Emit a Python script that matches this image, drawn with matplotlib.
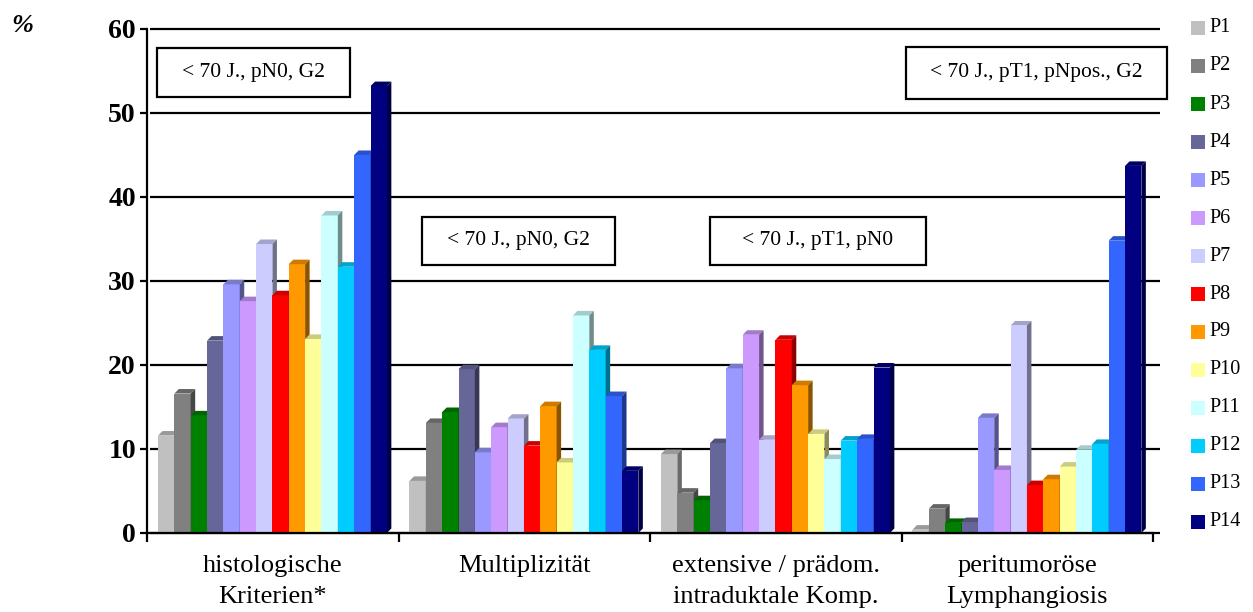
import numpy as np
import matplotlib
matplotlib.use('Agg')
import matplotlib.pyplot as plt
from matplotlib.patches import Polygon, Rectangle
from matplotlib.colors import to_rgb


categories = ['histologische\nKriterien*', 'Multiplizität',
              'extensive / prädom.\nintraduktale Komp.', 'peritumoröse\nLymphangiosis']
patients = ['P%d' % i for i in range(1, 15)]

# percentages per patient, P1..P14
hist_kriterien = [11.6, 16.6, 14.0, 22.9, 29.6, 27.6, 34.4, 28.3, 32.0, 23.1, 37.8, 31.7, 45.0, 53.2]
multiplizitaet = [6.2, 13.1, 14.4, 19.5, 9.6, 12.6, 13.6, 10.4, 15.1, 8.4, 25.9, 21.8, 16.3, 7.4]
extensive_komp = [9.4, 4.8, 3.9, 10.7, 19.6, 23.6, 11.1, 23.0, 17.6, 11.8, 8.8, 11.0, 11.2, 19.7]
lymphangiosis = [0.4, 2.9, 1.2, 1.3, 13.7, 7.5, 24.7, 5.7, 6.4, 7.9, 9.9, 10.6, 34.8, 43.7]

colors = ['#C0C0C0', '#808080', '#008000', '#666699', '#9999FF', '#CC99FF', '#CCCCFF',
          '#FF0000', '#FF9900', '#FFFF99', '#CCFFFF', '#00CCFF', '#3366FF', '#000080']

y_ticks = [0, 10, 20, 30, 40, 50, 60]

# (text, centre x, centre y, width, height) in pixels from the top left
notes = [('< 70 J., pN0, G2', 253.5, 72.5, 193, 49),
         ('< 70 J., pN0, G2', 518, 241, 193, 48),
         ('< 70 J., pT1, pN0', 817.5, 241, 216, 48),
         ('< 70 J., pT1, pNpos., G2', 1036.5, 73, 261, 51)]

SERIF = ['Liberation Serif', 'DejaVu Serif']
W, H = 1253, 612


def shade(color, f):
    return tuple(c * f for c in to_rgb(color))


def draw_bars(ax, values):
    width = 0.065
    offset = 0.0437
    dx, dy = 0.0179, 0.54
    for g in range(values.shape[0]):
        for i in range(values.shape[1]):
            x0 = g + offset + i * width
            h = values[g, i]
            z = 3 + g * 20 + i
            ax.bar(x0, h, width=width, align='edge', color=colors[i], linewidth=0, zorder=z)
            x1 = x0 + width
            top = Polygon([(x0, h), (x1, h), (x1 + dx, h + dy), (x0 + dx, h + dy)],
                          closed=True, facecolor=shade(colors[i], 0.8), linewidth=0, zorder=z)
            side = Polygon([(x1, 0), (x1 + dx, dy), (x1 + dx, h + dy), (x1, h)],
                           closed=True, facecolor=shade(colors[i], 0.55), linewidth=0, zorder=z)
            ax.add_patch(top)
            ax.add_patch(side)


def draw_legend(fig):
    for i, (name, col) in enumerate(zip(patients, colors)):
        yc = 28 + i * 38
        fig.add_artist(Rectangle((1191 / W, 1 - (yc + 7) / H), 14 / W, 14 / H,
                                 transform=fig.transFigure, facecolor=col, edgecolor='none'))
        fig.text(1209 / W, 1 - yc / H, name, family=SERIF, fontsize=14.5,
                 va='center', ha='left')


def draw_notes(fig):
    for text, cx, cy, bw, bh in notes:
        fig.add_artist(Rectangle(((cx - bw / 2) / W, 1 - (cy + bh / 2) / H), bw / W, bh / H,
                                 transform=fig.transFigure, facecolor='white',
                                 edgecolor='black', linewidth=1.6, zorder=10))
        fig.text(cx / W, 1 - cy / H, text, family=SERIF, fontsize=15.5,
                 ha='center', va='center', zorder=11)


def main():
    values = np.array([hist_kriterien, multiplizitaet, extensive_komp, lymphangiosis])

    fig = plt.figure(figsize=(12.53, 6.12), dpi=100)
    ax = fig.add_axes([147 / W, 1 - 533 / H, (1153 - 147) / W, (533 - 29) / H])

    ax.set_xlim(0, 4)
    ax.set_ylim(0, 60)

    for v in y_ticks:
        ax.plot([0.012, 4.028], [v, v], color='black', linewidth=1.6,
                clip_on=False, zorder=1, solid_capstyle='butt')

    draw_bars(ax, values)

    for s in ['top', 'right']:
        ax.spines[s].set_visible(False)
    for s in ['left', 'bottom']:
        ax.spines[s].set_linewidth(1.6)
        ax.spines[s].set_zorder(200)

    ax.set_yticks(y_ticks)
    ax.set_yticklabels([str(v) for v in y_ticks], family=SERIF, fontsize=20,
                       fontweight='bold')
    ax.tick_params(axis='y', direction='out', length=5, width=1.6, pad=3)

    ax.set_xticks(range(5))
    ax.set_xticklabels([])
    ax.tick_params(axis='x', which='major', direction='out', length=6.5, width=1.6)
    ax.set_xticks([0.5, 1.5, 2.5, 3.5], minor=True)
    ax.set_xticklabels(categories, minor=True, family=SERIF, fontsize=19,
                       linespacing=1.5)
    ax.tick_params(axis='x', which='minor', length=0, pad=16)

    fig.text(22 / W, 1 - 25 / H, '%', family=SERIF, fontsize=19,
             fontweight='bold', style='italic', ha='center', va='center')

    draw_notes(fig)
    draw_legend(fig)

    fig.savefig('out.png', dpi=100)


if __name__ == '__main__':
    main()
